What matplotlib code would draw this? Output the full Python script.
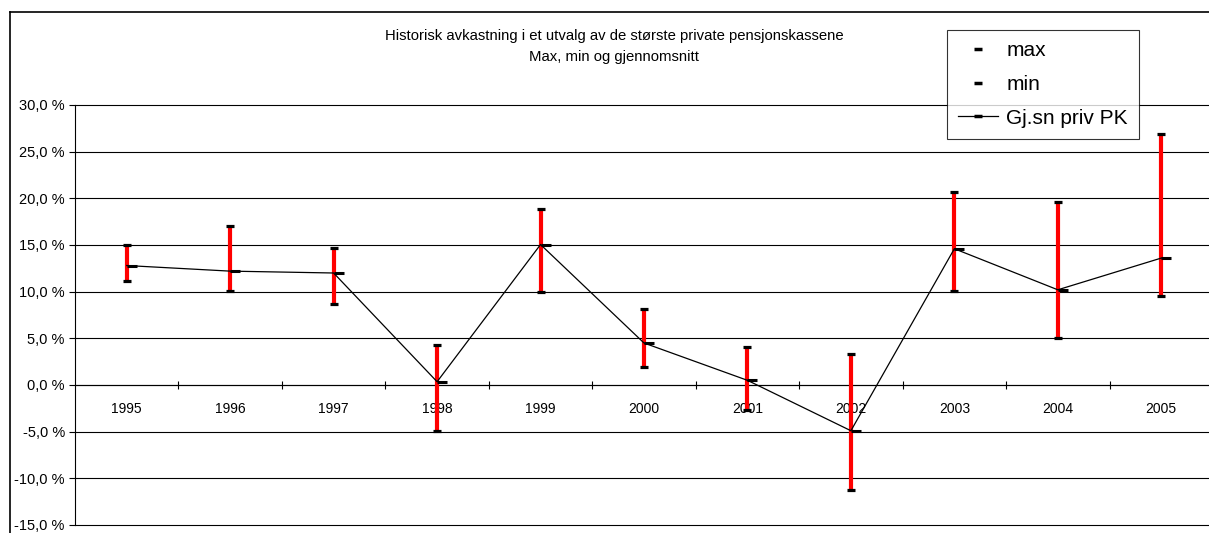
import numpy as np
from matplotlib import pyplot as plt
from matplotlib.lines import Line2D
from matplotlib.path import Path
from matplotlib.ticker import FuncFormatter

plt.rcParams['font.family'] = ['Liberation Sans', 'DejaVu Sans']

years = ['1995', '1996', '1997', '1998', '1999', '2000', '2001', '2002', '2003', '2004', '2005']
max_vals = [15.0, 17.0, 14.7, 4.3, 18.9, 8.1, 4.1, 3.35, 20.7, 19.6, 26.9]
min_vals = [11.1, 10.1, 8.7, -4.9, 10.0, 1.9, -2.7, -11.2, 10.1, 5.0, 9.5]
mean_vals = [12.8, 12.2, 12.0, 0.35, 15.05, 4.5, 0.5, -4.9, 14.6, 10.2, 13.6]

W, H = 1209, 533
fig = plt.figure(figsize=(W / 100, H / 100), dpi=100)
# plot area in pixels: left 75, right ~1213 (cut), top 105, bottom 525
ax = fig.add_axes([75 / W, (H - 525) / H, (1213 - 75) / W, (525 - 105) / H])

x = np.arange(len(years))

# red range bars
ax.vlines(x, min_vals, max_vals, color='red', lw=3, zorder=3)
# max / min caps
ax.plot(x, max_vals, ls='none', marker='_', ms=6, mew=2.3, color='black', zorder=4)
ax.plot(x, min_vals, ls='none', marker='_', ms=6, mew=2.3, color='black', zorder=4)
# mean line with dash drawn to the right of the point
right_dash = Path([(0, 0), (1, 0)], [Path.MOVETO, Path.LINETO])
ax.plot(x, mean_vals, color='black', lw=0.9, zorder=5)
ax.plot(x, mean_vals, ls='none', marker=right_dash, ms=14, mew=2.2, color='black', zorder=5)

ax.set_xlim(-0.5, len(years) - 0.5)
ax.set_ylim(-15, 30)
ax.set_yticks(np.arange(-15, 31, 5))
ax.yaxis.set_major_formatter(FuncFormatter(lambda v, p: f'{v:.1f} %'.replace('.', ',')))
ax.yaxis.grid(True, color='black', lw=0.8)
for gl in ax.get_ygridlines():
    gl.set_clip_on(False)
ax.set_axisbelow(True)
ax.tick_params(axis='y', direction='out', length=4.3, width=0.8, pad=3, labelsize=10.5)

# category axis at zero
ax.spines['bottom'].set_position(('data', 0))
ax.spines['bottom'].set_linewidth(0.8)
ax.spines['top'].set_visible(False)
ax.spines['right'].set_visible(False)
ax.spines['left'].set_linewidth(0.8)
ax.set_xticks(x)
ax.set_xticklabels(years)
ax.set_xticks(np.arange(-0.5, len(years), 1)[1:], minor=True)
ax.tick_params(axis='x', which='major', length=0, pad=12, labelsize=10)
ax.tick_params(axis='x', which='minor', direction='inout', length=6, width=0.8)

# titles
fig.text(614 / W, 1 - 36 / H, 'Historisk avkastning i et utvalg av de største private pensjonskassene',
         ha='center', va='center', fontsize=10.7)
fig.text(614 / W, 1 - 57 / H, 'Max, min og gjennomsnitt', ha='center', va='center', fontsize=10.7)

# outer chart frame (left and top edges visible)
fig.add_artist(Line2D([10 / W, 10 / W], [0, 1 - 12 / H], color='black', lw=1.2))
fig.add_artist(Line2D([10 / W, 1], [1 - 12 / H, 1 - 12 / H], color='black', lw=1.2))

handles = [
    Line2D([], [], ls='none', marker='_', ms=6, mew=2.5, color='black'),
    Line2D([], [], ls='none', marker='_', ms=6, mew=2.5, color='black'),
    Line2D([], [], color='black', lw=0.9, marker='_', ms=6, mew=2.5),
]
leg = fig.legend(handles, ['max', 'min', 'Gj.sn priv PK'], loc='upper left',
                 bbox_to_anchor=(947 / W, 1 - 30 / H), bbox_transform=fig.transFigure,
                 fontsize=15, frameon=True, fancybox=False, borderaxespad=0,
                 handlelength=1.9, handletextpad=0.4, labelspacing=0.7, borderpad=0.55)
leg.get_frame().set_edgecolor('black')
leg.get_frame().set_linewidth(0.8)

fig.savefig('out.png', dpi=100)
